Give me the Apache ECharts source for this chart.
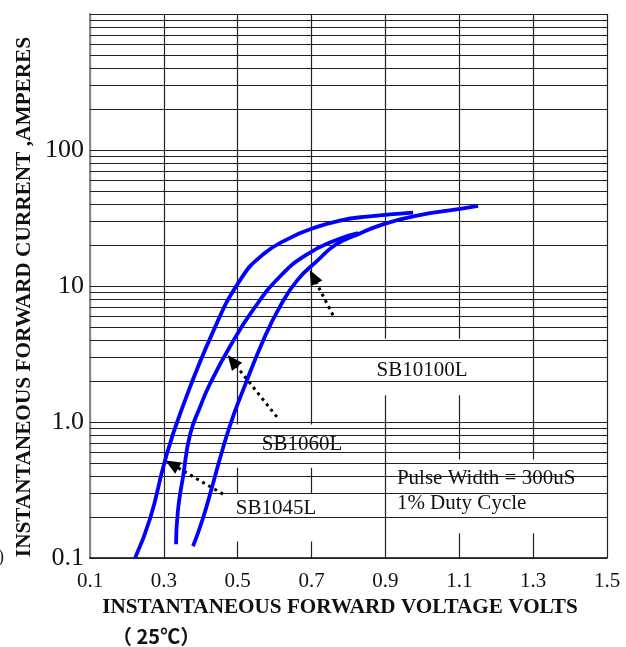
<!DOCTYPE html>
<html><head><meta charset="utf-8">
<script src="https://cdn.jsdelivr.net/npm/echarts@6/dist/echarts.min.js"></script>
<style>html,body{margin:0;padding:0;background:#fff}#c{width:626px;height:647px}</style>
</head><body><div id="c"></div>
<script>
// ---- data ----
const sb1045V = [0.222,0.263,0.303,0.344,0.433,0.506,0.569,0.642,0.704,0.777,0.850,0.975];
const sb1045I = [0.10,0.196,0.519,1.15,4.60,11.0,17.1,22.6,26.6,30.3,32.4,34.6];
const sb1060V = [0.333,0.338,0.352,0.371,0.398,0.425,0.479,0.541,0.615,0.688,0.769,0.826];
const sb1060I = [0.126,0.222,0.398,0.809,1.29,1.91,3.59,6.64,11.8,17.1,21.9,24.5];
const sb10100V = [0.379,0.406,0.433,0.460,0.487,0.514,0.569,0.615,0.661,0.715,0.766,0.823,0.893,0.986,1.102,1.151];
const sb10100I = [0.122,0.196,0.352,0.642,1.09,1.70,3.98,7.11,11.0,15.3,20.2,23.8,28.4,32.9,36.9,38.8];
const xTickValues = [0.1,0.3,0.5,0.7,0.9,1.1,1.3,1.5];
const yTickLabels = {'0.1':'0.1','1':'1.0','10':'10','100':'100'};
const decades = [0.1,1,10,100];
const multiples = [1,2,3,4,5,6,7,8,9];
const seriesNames = ['SB1045L','SB1060L','SB10100L'];
const noteLines = ['Pulse Width = 300uS','1% Duty Cycle'];

// ---- build ----
const hLines = [];
decades.forEach(d => multiples.forEach(m => hLines.push(+(d*m).toPrecision(3))));
hLines.push(1000);
const zip = (a,b) => a.map((v,i)=>[v,b[i]]);
const serif = 'Liberation Serif';
const txt = {fontFamily: serif, fontSize: 21, color: '#111'};

const chart = echarts.init(document.getElementById('c'), null, {renderer:'canvas'});
const curve = (name, v, i) => ({
  name, type:'line', data: zip(v,i), smooth:0.5, showSymbol:false, z:5,
  lineStyle:{color:'#0000ff', width:3.8}, animation:false
});
const arrow = (tail, head) => [{coord: tail}, {coord: head}];
chart.setOption({
  animation:false,
  grid:{left:90, right:19, top:14, bottom:89, containLabel:false},
  xAxis:{type:'value', min:0.1, max:1.5, interval:0.2,
    axisLine:{onZero:false, lineStyle:{color:'#000', width:1.5}},
    axisTick:{show:false},
    axisLabel:{fontFamily:serif, fontSize:21, color:'#111', margin:13,
      formatter: v => { const r = Math.round(v*10)/10; return xTickValues.some(t=>Math.abs(t-r)<1e-6) ? r.toFixed(1) : ''; }},
    splitLine:{show:true, lineStyle:{color:'#222', width:1.2}}
  },
  yAxis:{type:'log', logBase:10, min:0.1, max:1000,
    axisLine:{show:true, lineStyle:{color:'#888', width:2}},
    axisTick:{show:false},
    axisLabel:{fontFamily:serif, fontSize:26, color:'#111', margin:6,
      formatter: v => yTickLabels[String(+v.toPrecision(3))] || ''},
    splitLine:{show:false}
  },
  graphic:[
    {type:'text', x:24, y:297, rotation:Math.PI/2,
      style:{text:'INSTANTANEOUS FORWARD CURRENT ,AMPERES', fontFamily:serif, fontWeight:'bold', fontSize:21.3, fill:'#111', align:'center', verticalAlign:'middle'}},
    {type:'text', x:340, y:608,
      style:{text:'INSTANTANEOUS FORWARD VOLTAGE VOLTS', fontFamily:serif, fontWeight:'bold', fontSize:21.2, fill:'#111', align:'center', verticalAlign:'middle'}},
    {type:'text', x:112, y:636,
      style:{text:'（ 25℃）', fontFamily:'"Noto Sans CJK SC"', fontWeight:'bold', fontSize:20, fill:'#111', align:'left', verticalAlign:'middle'}},
    {type:'text', x:4, y:557,
      style:{text:')', fontFamily:serif, fontSize:18, fill:'#222', align:'right', verticalAlign:'middle'}}
  ],
  series:[
    {type:'line', data:[], z:2, silent:true,
      markLine:{silent:true, symbol:'none', label:{show:false}, animation:false,
        lineStyle:{color:'#222', width:1.1, type:'solid'},
        data: hLines.map(v => ({yAxis:v}))}},
    {type:'line', data:[], z:3, silent:true,
      markArea:{silent:true, itemStyle:{color:'#fff', opacity:1}, label:{show:false}, animation:false,
        data:[
          [{coord:[0.772,4.1]},{coord:[1.194,1.57]}],
          [{coord:[0.482,0.96]},{coord:[0.864,0.46]}],
          [{coord:[0.487,0.30]},{coord:[0.885,0.132]}],
          [{coord:[0.912,0.53]},{coord:[1.481,0.152]}]
        ]}},
    curve(seriesNames[0], sb1045V, sb1045I),
    curve(seriesNames[1], sb1060V, sb1060I),
    curve(seriesNames[2], sb10100V, sb10100I),
    {type:'line', data:[], z:6, silent:true,
      markLine:{silent:true, symbol:['none','triangle'], symbolSize:[13,15], label:{show:false}, animation:false,
        lineStyle:{color:'#000', width:3, type:[3,4]},
        data:[
          arrow([0.460,0.295],[0.322,0.489]),
          arrow([0.606,1.09],[0.4856,2.81]),
          arrow([0.758,6.10],[0.7044,11.7])
        ]},
      markPoint:{silent:true, symbol:'circle', symbolSize:0, animation:false,
        label:{show:true, position:'inside', ...txt},
        data:[
          {coord:[0.604,0.23], value:seriesNames[0], label:{formatter:seriesNames[0]}},
          {coord:[0.674,0.679], value:seriesNames[1], label:{formatter:seriesNames[1]}},
          {coord:[0.999,2.39], value:seriesNames[2], label:{formatter:seriesNames[2]}},
          {coord:[0.931,0.385], value:noteLines[0], label:{formatter:noteLines[0], position:'right', distance:0}},
          {coord:[0.931,0.251], value:noteLines[1], label:{formatter:noteLines[1], position:'right', distance:0}}
        ]}}
  ]
});
</script>
</body></html>
